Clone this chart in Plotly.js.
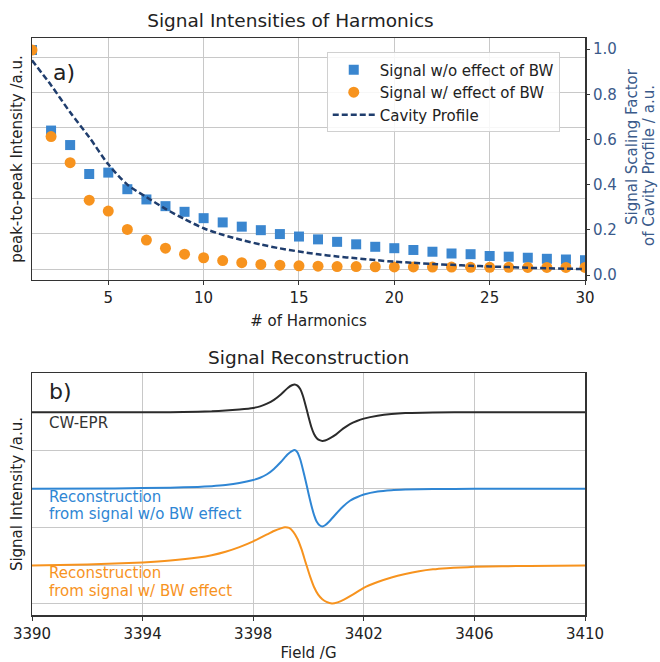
<!DOCTYPE html>
<html>
<head>
<meta charset="utf-8">
<script src="https://cdn.plot.ly/plotly-3.0.1.min.js"></script>
<style>html,body{margin:0;padding:0;background:#fff;}#chart{width:660px;height:662px;}</style>
</head>
<body>
<div id="chart"></div>
<script>
// ---- Panel a) data: signal intensities of harmonics ----
var harmonics = [1,2,3,4,5,6,7,8,9,10,11,12,13,14,15,16,17,18,19,20,21,22,23,24,25,26,27,28,29,30];
var signalNoBW = [6.20,3.92,3.51,2.69,2.73,2.26,1.97,1.78,1.62,1.44,1.32,1.20,1.10,0.99,0.92,0.84,0.77,0.70,0.63,0.59,0.54,0.49,0.44,0.42,0.37,0.35,0.32,0.29,0.27,0.25];
var signalBW = [6.20,3.75,3.01,1.95,1.64,1.12,0.82,0.59,0.42,0.32,0.24,0.18,0.13,0.11,0.09,0.08,0.07,0.07,0.065,0.06,0.06,0.055,0.055,0.05,0.05,0.05,0.045,0.045,0.045,0.045];
var cavityProfile = [0.95,0.84,0.72,0.61,0.49,0.40,0.345,0.293,0.247,0.207,0.178,0.155,0.135,0.118,0.104,0.092,0.082,0.074,0.066,0.059,0.054,0.049,0.045,0.041,0.038,0.035,0.032,0.030,0.028,0.026];
var harmonicTicks = [5,10,15,20,25,30];
var scalingTicks = [0,0.2,0.4,0.6,0.8,1.0];

// ---- Panel b) data: signal reconstruction (offset traces) ----
var cwField = [3390,3395,3396,3396.5,3397,3397.5,3398,3398.25,3398.5,3398.75,3399,3399.25,3399.4,3399.5,3399.6,3399.7,3399.8,3399.9,3400,3400.1,3400.2,3400.3,3400.4,3400.5,3400.6,3400.75,3401,3401.25,3401.5,3401.75,3402,3402.5,3403,3403.5,3404.5,3406,3410];
var cwSignal = [5.0,5.0,5.01,5.02,5.04,5.07,5.11,5.15,5.22,5.32,5.46,5.63,5.70,5.72,5.69,5.60,5.42,5.16,4.88,4.62,4.43,4.32,4.27,4.25,4.26,4.31,4.42,4.57,4.69,4.77,4.83,4.905,4.95,4.975,4.99,5.0,5.0];
var recNoBWField = [3390,3393,3395,3396,3396.5,3397,3397.5,3398,3398.25,3398.5,3398.75,3399,3399.25,3399.4,3399.5,3399.6,3399.7,3399.8,3399.9,3400,3400.1,3400.2,3400.3,3400.4,3400.5,3400.6,3400.75,3401,3401.25,3401.5,3401.75,3402,3402.5,3403,3403.5,3404.5,3406,3410];
var recNoBWSignal = [3.0,3.01,3.03,3.05,3.07,3.10,3.15,3.23,3.29,3.38,3.52,3.70,3.90,3.98,4.01,3.95,3.77,3.50,3.20,2.88,2.58,2.32,2.14,2.05,2.02,2.05,2.15,2.35,2.54,2.69,2.78,2.85,2.93,2.965,2.98,2.995,3.0,3.0];
var recBWField = [3390,3392,3393,3394,3395,3396,3396.5,3397,3397.5,3398,3398.25,3398.5,3398.75,3399,3399.15,3399.3,3399.45,3399.6,3399.75,3399.9,3400.05,3400.2,3400.35,3400.5,3400.65,3400.85,3401.05,3401.3,3401.6,3402,3402.5,3403,3403.5,3404,3404.5,3405,3405.5,3406,3407,3408,3410];
var recBWSignal = [1.0,1.03,1.05,1.08,1.13,1.21,1.27,1.36,1.48,1.63,1.72,1.81,1.90,1.97,2.00,1.98,1.88,1.70,1.42,1.07,0.73,0.44,0.24,0.12,0.05,0.01,0.04,0.12,0.24,0.42,0.57,0.69,0.78,0.85,0.90,0.93,0.95,0.965,0.98,0.99,1.0];
var fieldTicks = [3390,3394,3398,3402,3406,3410];

var FONT = 'DejaVu Sans, Liberation Sans, sans-serif';
var SPINE = '#333333';
var GRID = '#c8c8c8';
var BLUE = '#3a86cf';
var ORANGE = '#f7931e';
var NAVY = '#1f3d6d';
var RIGHTC = '#3a5a8a';

var traces = [
  {x: harmonics, y: signalNoBW, type: 'scatter', mode: 'markers', name: 'Signal w/o effect of BW',
   marker: {symbol: 'square', size: 10, color: BLUE}, xaxis: 'x', yaxis: 'y'},
  {x: harmonics, y: signalBW, type: 'scatter', mode: 'markers', name: 'Signal w/ effect of BW',
   marker: {symbol: 'circle', size: 11, color: ORANGE}, xaxis: 'x', yaxis: 'y'},
  {x: harmonics, y: cavityProfile, type: 'scatter', mode: 'lines', name: 'Cavity Profile',
   line: {color: NAVY, width: 2.5, dash: '6px,3px', shape: 'spline', smoothing: 0.8}, xaxis: 'x', yaxis: 'y2'},
  {x: cwField, y: cwSignal, type: 'scatter', mode: 'lines', name: 'CW-EPR', showlegend: false,
   line: {color: '#2b2b2b', width: 2, shape: 'spline', smoothing: 0.5}, xaxis: 'x2', yaxis: 'y3'},
  {x: recNoBWField, y: recNoBWSignal, type: 'scatter', mode: 'lines', name: 'Reconstruction from signal w/o BW effect', showlegend: false,
   line: {color: '#2f86d4', width: 2, shape: 'spline', smoothing: 0.5}, xaxis: 'x2', yaxis: 'y3'},
  {x: recBWField, y: recBWSignal, type: 'scatter', mode: 'lines', name: 'Reconstruction from signal w/ BW effect', showlegend: false,
   line: {color: ORANGE, width: 2, shape: 'spline', smoothing: 0.5}, xaxis: 'x2', yaxis: 'y3'}
];

var baseAxis = {
  showline: true, linecolor: SPINE, linewidth: 1.5, mirror: true,
  showgrid: true, gridcolor: GRID, gridwidth: 1, zeroline: false,
  tickfont: {family: FONT, size: 15, color: '#222'}, automargin: false
};
function ax(extra) { return Object.assign({}, baseAxis, extra); }

function label(text, x, y, color, size, angle) {
  return {text: text, xref: 'paper', yref: 'paper', x: x, y: y, xanchor: angle ? 'center' : 'left', yanchor: 'middle',
          showarrow: false, textangle: angle || 0, font: {family: FONT, size: size, color: color}};
}

var layout = {
  width: 660, height: 662,
  margin: {l: 32, r: 75, t: 38, b: 47},
  paper_bgcolor: '#ffffff', plot_bgcolor: '#ffffff',
  font: {family: FONT, size: 15, color: '#222'},
  title: {text: 'Signal Intensities of Harmonics', font: {family: FONT, size: 18.5, color: '#222'},
          x: 0.4674, xanchor: 'center', xref: 'paper', y: 1 - 21/662, yref: 'container', yanchor: 'middle'},
  showlegend: true,
  legend: {x: 0.533, y: 0.975, xanchor: 'left', yanchor: 'top', xref: 'paper', yref: 'paper',
           bgcolor: 'rgba(255,255,255,0.85)', bordercolor: '#d0d0d0', borderwidth: 1, itemwidth: 42,
           font: {family: FONT, size: 15, color: '#222'}, tracegroupgap: 0},
  xaxis: ax({domain: [0, 1], anchor: 'y', range: [1, 30], tickmode: 'array', tickvals: harmonicTicks,
             ticks: 'outside', ticklen: 4, tickcolor: SPINE,
             title: {text: '# of Harmonics', font: {family: FONT, size: 15, color: '#222'}, standoff: 9}}),
  yaxis: ax({domain: [0.5806, 1], anchor: 'x', range: [-0.31, 6.54], tickmode: 'array', tickvals: [0,1,2,3,4,5,6],
             showticklabels: false, ticks: '',
             title: {text: 'peak-to-peak Intensity /a.u.', font: {family: FONT, size: 15, color: '#222'}, standoff: 4}}),
  yaxis2: {overlaying: 'y', side: 'right', anchor: 'x', range: [-0.022, 1.049], tickmode: 'array', tickvals: scalingTicks,
           tickformat: '.1f', showgrid: false, zeroline: false, showline: false, automargin: false,
           ticks: 'outside', ticklen: 4, tickcolor: SPINE,
           tickfont: {family: FONT, size: 15, color: RIGHTC}},
  xaxis2: ax({domain: [0, 1], anchor: 'y3', range: [3390, 3410], tickmode: 'array', tickvals: fieldTicks,
              ticks: 'outside', ticklen: 4, tickcolor: SPINE,
              title: {text: 'Field /G', font: {family: FONT, size: 15, color: '#222'}, standoff: 7}}),
  yaxis3: ax({domain: [0, 0.4194], anchor: 'x2', range: [-0.29, 6.02], tickmode: 'array', tickvals: [0,1,2,3,4,5],
              showticklabels: false, ticks: '',
              title: {text: 'Signal Intensity /a.u.', font: {family: FONT, size: 15, color: '#222'}, standoff: 4}}),
  annotations: [
    label('Signal Scaling Factor', (632-32)/553, (615-147)/577, RIGHTC, 15, -90),
    label('of Cavity Profile / a.u.', (649-32)/553, (615-166)/577, RIGHTC, 15, -90),
    label('a)', 0.034, 0.94, '#222', 22),
    {text: 'Signal Reconstruction', xref: 'paper', yref: 'paper', x: 0.5, y: (615-357)/577, xanchor: 'center', yanchor: 'middle', showarrow: false,
     font: {family: FONT, size: 18.5, color: '#222'}},
    label('b)', 0.027, (615-392)/577, '#222', 22),
    label('CW-EPR', 0.027, (615-423)/577, '#333', 15),
    label('Reconstruction', 0.027, (615-497)/577, '#2f86d4', 15),
    label('from signal w/o BW effect', 0.027, (615-514)/577, '#2f86d4', 15),
    label('Reconstruction', 0.027, (615-573)/577, ORANGE, 15),
    label('from signal w/ BW effect', 0.027, (615-591)/577, ORANGE, 15)
  ]
};

Plotly.newPlot('chart', traces, layout, {displayModeBar: false, staticPlot: true});
</script>
</body>
</html>
